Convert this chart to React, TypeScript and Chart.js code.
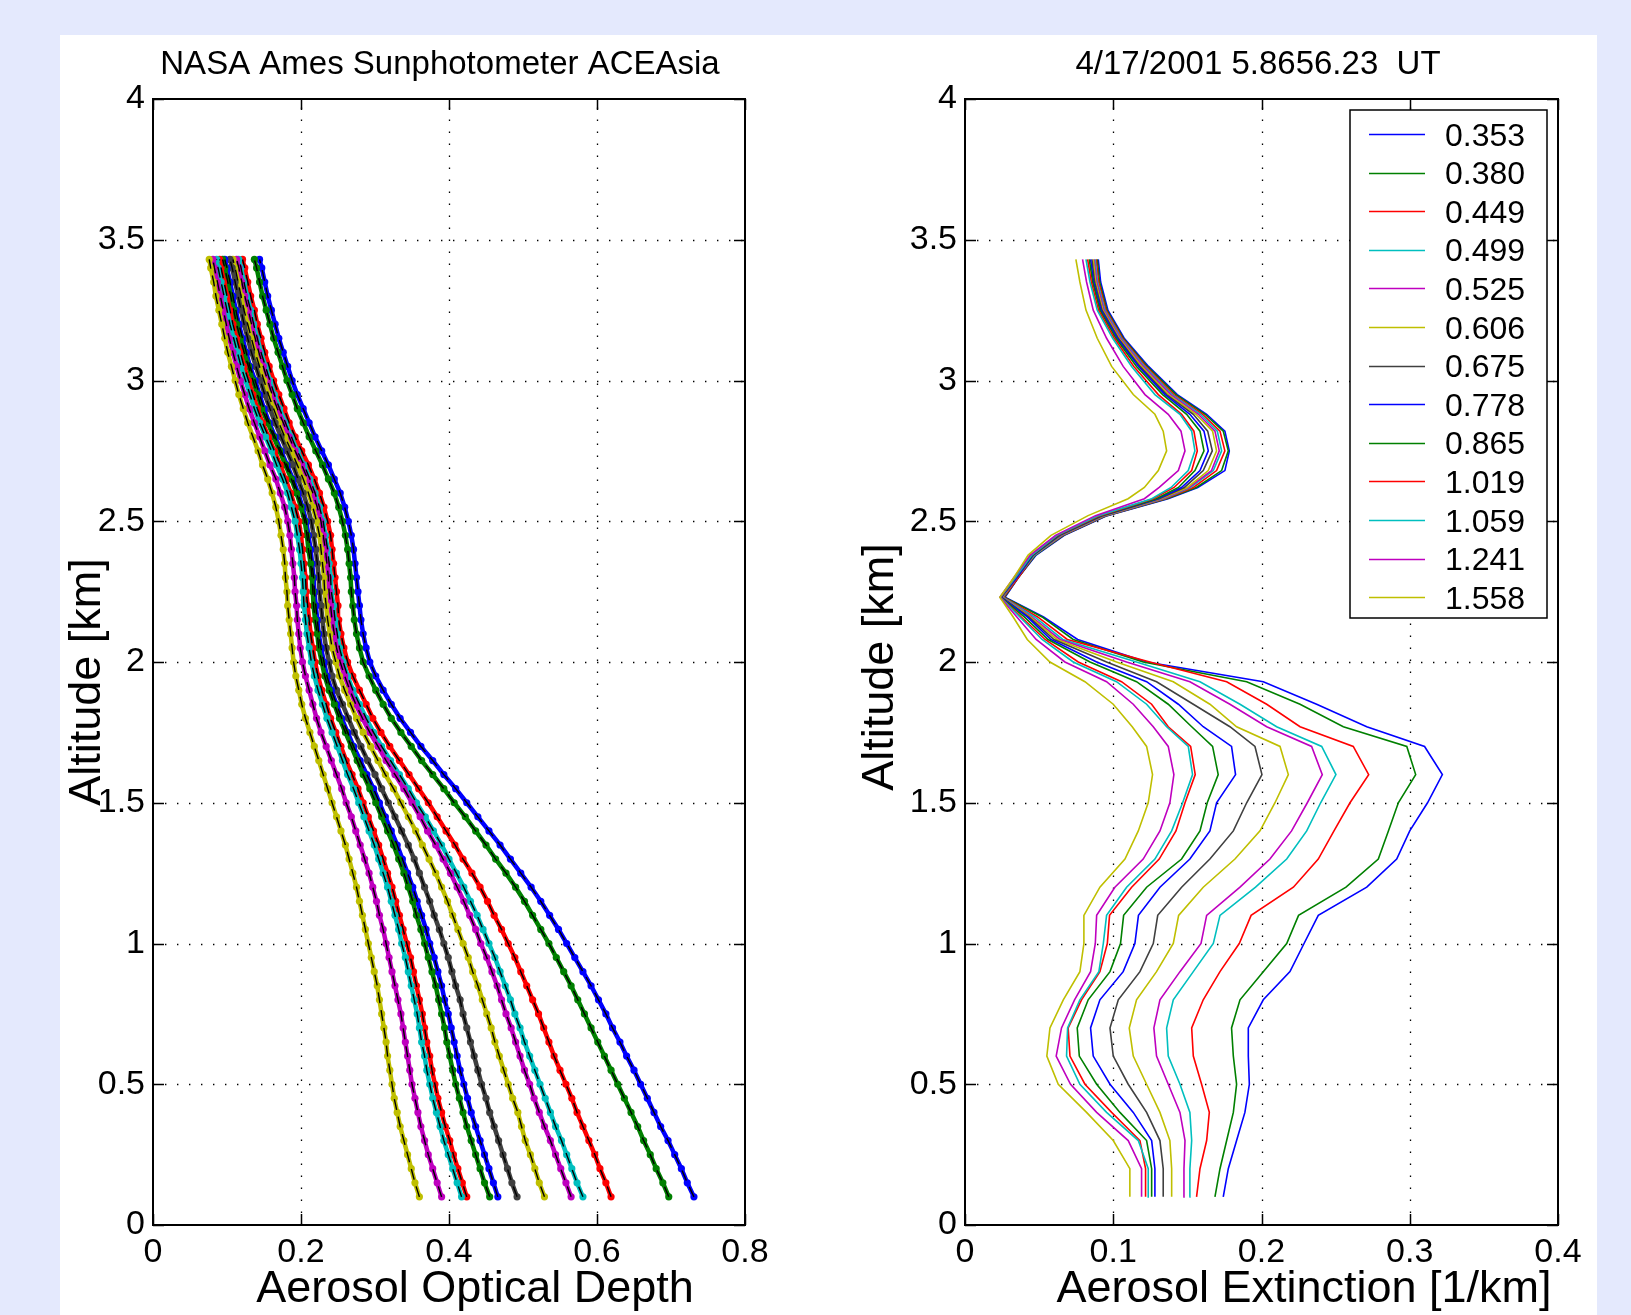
import React, { useEffect, useRef } from "react";
import { Chart, registerables } from "chart.js";

Chart.register(...registerables);

const FONT = '"Liberation Sans", Arial, Helvetica, sans-serif';

// ---------- legend / series ----------
const WAVELENGTHS = ["0.353", "0.380", "0.449", "0.499", "0.525", "0.606", "0.675", "0.778", "0.865", "1.019", "1.059", "1.241", "1.558"];
const COLORS = ["#0000ff", "#008000", "#ff0000", "#00bfbf", "#bf00bf", "#bfbf00", "#404040", "#0000ff", "#008000", "#ff0000", "#00bfbf", "#bf00bf", "#bfbf00"];

// ---------- left panel: aerosol optical depth vs altitude ----------
const ALT_AOD = [0.10, 0.15, 0.20, 0.25, 0.30, 0.35, 0.40, 0.45, 0.50, 0.55, 0.60, 0.65, 0.70, 0.75, 0.80, 0.85, 0.90, 0.95, 1.00, 1.05, 1.10, 1.15, 1.20, 1.25, 1.30, 1.35, 1.40, 1.45, 1.50, 1.55, 1.60, 1.65, 1.70, 1.75, 1.80, 1.85, 1.90, 1.95, 2.00, 2.05, 2.10, 2.15, 2.20, 2.25, 2.30, 2.35, 2.40, 2.45, 2.50, 2.55, 2.60, 2.65, 2.70, 2.75, 2.80, 2.85, 2.90, 2.95, 3.00, 3.05, 3.10, 3.15, 3.20, 3.25, 3.30, 3.35, 3.40, 3.43];

const AOD_353 = [0.731, 0.722, 0.714, 0.705, 0.696, 0.686, 0.677, 0.668, 0.659, 0.650, 0.640, 0.631, 0.621, 0.612, 0.602, 0.592, 0.581, 0.570, 0.559, 0.548, 0.536, 0.524, 0.511, 0.497, 0.483, 0.469, 0.454, 0.439, 0.424, 0.409, 0.393, 0.378, 0.362, 0.348, 0.334, 0.322, 0.311, 0.301, 0.293, 0.288, 0.284, 0.281, 0.279, 0.277, 0.275, 0.273, 0.271, 0.268, 0.264, 0.259, 0.253, 0.245, 0.237, 0.228, 0.219, 0.211, 0.203, 0.195, 0.188, 0.182, 0.176, 0.170, 0.165, 0.160, 0.155, 0.151, 0.147, 0.144];
const AOD_380 = [0.697, 0.689, 0.680, 0.672, 0.663, 0.655, 0.646, 0.637, 0.628, 0.619, 0.610, 0.601, 0.592, 0.583, 0.574, 0.565, 0.555, 0.545, 0.535, 0.524, 0.513, 0.502, 0.490, 0.477, 0.463, 0.450, 0.436, 0.422, 0.407, 0.393, 0.378, 0.363, 0.349, 0.335, 0.322, 0.311, 0.301, 0.292, 0.284, 0.279, 0.275, 0.272, 0.270, 0.268, 0.267, 0.265, 0.263, 0.260, 0.256, 0.251, 0.245, 0.237, 0.229, 0.220, 0.211, 0.203, 0.195, 0.188, 0.181, 0.175, 0.169, 0.163, 0.158, 0.153, 0.148, 0.144, 0.140, 0.137];
const AOD_449 = [0.619, 0.612, 0.604, 0.597, 0.589, 0.581, 0.573, 0.566, 0.558, 0.550, 0.542, 0.535, 0.528, 0.521, 0.513, 0.505, 0.497, 0.489, 0.480, 0.471, 0.461, 0.452, 0.442, 0.431, 0.419, 0.408, 0.396, 0.384, 0.372, 0.359, 0.346, 0.333, 0.320, 0.308, 0.297, 0.288, 0.279, 0.270, 0.263, 0.258, 0.254, 0.251, 0.250, 0.248, 0.246, 0.244, 0.242, 0.240, 0.236, 0.231, 0.225, 0.218, 0.210, 0.201, 0.192, 0.184, 0.177, 0.170, 0.163, 0.157, 0.151, 0.146, 0.141, 0.137, 0.132, 0.128, 0.124, 0.121];
const AOD_499 = [0.581, 0.573, 0.566, 0.559, 0.552, 0.544, 0.537, 0.530, 0.523, 0.516, 0.509, 0.502, 0.496, 0.489, 0.483, 0.476, 0.469, 0.462, 0.454, 0.446, 0.438, 0.429, 0.420, 0.410, 0.400, 0.390, 0.379, 0.368, 0.356, 0.345, 0.333, 0.321, 0.309, 0.298, 0.288, 0.279, 0.270, 0.263, 0.257, 0.252, 0.249, 0.246, 0.244, 0.241, 0.240, 0.238, 0.236, 0.233, 0.230, 0.225, 0.219, 0.212, 0.204, 0.195, 0.187, 0.179, 0.171, 0.164, 0.158, 0.152, 0.146, 0.141, 0.136, 0.132, 0.127, 0.123, 0.119, 0.116];
const AOD_525 = [0.565, 0.558, 0.551, 0.544, 0.537, 0.529, 0.522, 0.515, 0.509, 0.502, 0.496, 0.490, 0.484, 0.477, 0.471, 0.465, 0.458, 0.451, 0.443, 0.436, 0.428, 0.420, 0.411, 0.402, 0.392, 0.382, 0.371, 0.361, 0.350, 0.339, 0.327, 0.315, 0.304, 0.293, 0.283, 0.274, 0.266, 0.259, 0.253, 0.248, 0.245, 0.242, 0.240, 0.238, 0.237, 0.235, 0.233, 0.230, 0.227, 0.222, 0.216, 0.209, 0.201, 0.192, 0.184, 0.176, 0.168, 0.161, 0.155, 0.149, 0.143, 0.138, 0.133, 0.129, 0.124, 0.120, 0.116, 0.113];
const AOD_606 = [0.529, 0.522, 0.516, 0.510, 0.503, 0.498, 0.493, 0.486, 0.480, 0.474, 0.468, 0.462, 0.457, 0.451, 0.445, 0.439, 0.432, 0.426, 0.419, 0.412, 0.405, 0.398, 0.390, 0.382, 0.373, 0.364, 0.355, 0.345, 0.335, 0.325, 0.314, 0.304, 0.294, 0.284, 0.275, 0.267, 0.259, 0.252, 0.247, 0.242, 0.239, 0.236, 0.234, 0.232, 0.231, 0.229, 0.227, 0.225, 0.221, 0.216, 0.210, 0.203, 0.195, 0.187, 0.178, 0.170, 0.163, 0.156, 0.150, 0.144, 0.138, 0.133, 0.128, 0.123, 0.119, 0.115, 0.111, 0.108];
const AOD_675 = [0.492, 0.485, 0.479, 0.473, 0.467, 0.461, 0.455, 0.450, 0.444, 0.439, 0.434, 0.429, 0.424, 0.419, 0.415, 0.409, 0.404, 0.399, 0.393, 0.387, 0.380, 0.374, 0.367, 0.360, 0.353, 0.345, 0.336, 0.327, 0.318, 0.309, 0.300, 0.290, 0.281, 0.272, 0.264, 0.256, 0.248, 0.242, 0.238, 0.234, 0.231, 0.229, 0.227, 0.225, 0.224, 0.222, 0.220, 0.217, 0.214, 0.209, 0.203, 0.196, 0.189, 0.181, 0.173, 0.165, 0.158, 0.151, 0.145, 0.139, 0.133, 0.128, 0.123, 0.119, 0.115, 0.111, 0.107, 0.104];
const AOD_778 = [0.466, 0.460, 0.454, 0.448, 0.442, 0.436, 0.430, 0.425, 0.420, 0.415, 0.411, 0.407, 0.403, 0.399, 0.394, 0.390, 0.385, 0.380, 0.374, 0.369, 0.363, 0.357, 0.351, 0.344, 0.337, 0.330, 0.322, 0.314, 0.306, 0.298, 0.289, 0.280, 0.271, 0.263, 0.255, 0.248, 0.241, 0.235, 0.231, 0.227, 0.224, 0.222, 0.220, 0.218, 0.217, 0.215, 0.213, 0.210, 0.207, 0.202, 0.196, 0.189, 0.181, 0.173, 0.165, 0.157, 0.150, 0.144, 0.138, 0.131, 0.126, 0.121, 0.116, 0.112, 0.108, 0.104, 0.100, 0.097];
const AOD_865 = [0.455, 0.448, 0.442, 0.436, 0.430, 0.424, 0.419, 0.414, 0.409, 0.405, 0.401, 0.397, 0.394, 0.390, 0.386, 0.382, 0.377, 0.372, 0.367, 0.362, 0.356, 0.351, 0.345, 0.339, 0.332, 0.325, 0.317, 0.309, 0.301, 0.293, 0.284, 0.276, 0.268, 0.260, 0.252, 0.245, 0.238, 0.232, 0.228, 0.224, 0.222, 0.219, 0.217, 0.216, 0.215, 0.213, 0.210, 0.208, 0.205, 0.200, 0.194, 0.187, 0.179, 0.171, 0.163, 0.155, 0.147, 0.141, 0.135, 0.129, 0.123, 0.118, 0.113, 0.109, 0.105, 0.101, 0.097, 0.094];
const AOD_1019 = [0.424, 0.418, 0.412, 0.406, 0.401, 0.395, 0.390, 0.385, 0.381, 0.377, 0.374, 0.370, 0.367, 0.364, 0.360, 0.356, 0.352, 0.348, 0.343, 0.338, 0.333, 0.328, 0.323, 0.317, 0.311, 0.305, 0.298, 0.291, 0.284, 0.277, 0.269, 0.261, 0.254, 0.247, 0.240, 0.234, 0.228, 0.223, 0.219, 0.216, 0.213, 0.211, 0.209, 0.207, 0.206, 0.204, 0.202, 0.200, 0.197, 0.192, 0.186, 0.179, 0.172, 0.164, 0.156, 0.148, 0.141, 0.135, 0.129, 0.123, 0.118, 0.113, 0.108, 0.104, 0.100, 0.096, 0.092, 0.090];
const AOD_1059 = [0.417, 0.411, 0.405, 0.399, 0.393, 0.388, 0.383, 0.378, 0.374, 0.370, 0.367, 0.363, 0.360, 0.357, 0.353, 0.349, 0.345, 0.341, 0.336, 0.332, 0.327, 0.322, 0.317, 0.311, 0.305, 0.299, 0.292, 0.285, 0.278, 0.271, 0.263, 0.256, 0.249, 0.242, 0.235, 0.229, 0.223, 0.218, 0.214, 0.211, 0.208, 0.206, 0.204, 0.203, 0.202, 0.200, 0.198, 0.195, 0.192, 0.187, 0.182, 0.175, 0.167, 0.160, 0.152, 0.144, 0.137, 0.131, 0.125, 0.119, 0.114, 0.109, 0.104, 0.100, 0.096, 0.092, 0.088, 0.086];
const AOD_1241 = [0.390, 0.384, 0.378, 0.372, 0.367, 0.362, 0.358, 0.354, 0.350, 0.347, 0.344, 0.341, 0.338, 0.335, 0.331, 0.327, 0.323, 0.319, 0.315, 0.311, 0.306, 0.302, 0.297, 0.292, 0.286, 0.280, 0.274, 0.268, 0.261, 0.255, 0.248, 0.241, 0.234, 0.227, 0.221, 0.216, 0.211, 0.206, 0.202, 0.199, 0.197, 0.195, 0.194, 0.192, 0.191, 0.189, 0.187, 0.185, 0.182, 0.178, 0.172, 0.166, 0.158, 0.151, 0.144, 0.137, 0.130, 0.124, 0.118, 0.113, 0.108, 0.103, 0.099, 0.095, 0.091, 0.087, 0.083, 0.081];
const AOD_1558 = [0.360, 0.354, 0.349, 0.344, 0.339, 0.334, 0.330, 0.326, 0.323, 0.320, 0.317, 0.315, 0.312, 0.309, 0.306, 0.303, 0.299, 0.295, 0.291, 0.287, 0.283, 0.279, 0.275, 0.270, 0.265, 0.260, 0.254, 0.248, 0.242, 0.236, 0.230, 0.224, 0.218, 0.212, 0.206, 0.201, 0.197, 0.193, 0.190, 0.188, 0.186, 0.184, 0.182, 0.181, 0.179, 0.178, 0.176, 0.173, 0.170, 0.166, 0.161, 0.155, 0.148, 0.142, 0.135, 0.128, 0.122, 0.116, 0.111, 0.106, 0.101, 0.097, 0.093, 0.089, 0.085, 0.082, 0.078, 0.076];

// ---------- right panel: aerosol extinction vs altitude ----------
const ALT_EXT = [0.10, 0.20, 0.30, 0.40, 0.50, 0.60, 0.70, 0.80, 0.90, 1.00, 1.10, 1.20, 1.30, 1.40, 1.50, 1.60, 1.70, 1.77, 1.85, 1.93, 2.00, 2.08, 2.16, 2.23, 2.30, 2.38, 2.45, 2.52, 2.58, 2.62, 2.68, 2.75, 2.82, 2.88, 2.95, 3.05, 3.15, 3.25, 3.35, 3.43];

const EXT_353 = [0.1742, 0.1776, 0.1832, 0.1888, 0.1918, 0.1911, 0.1911, 0.2012, 0.2192, 0.2287, 0.2383, 0.2710, 0.2912, 0.3000, 0.3120, 0.3220, 0.3100, 0.2710, 0.2372, 0.2012, 0.1225, 0.0760, 0.0530, 0.0270, 0.0360, 0.0480, 0.0670, 0.0960, 0.1370, 0.1570, 0.1753, 0.1783, 0.1753, 0.1630, 0.1432, 0.1238, 0.1074, 0.0964, 0.0915, 0.0899];
const EXT_380 = [0.1686, 0.1720, 0.1765, 0.1810, 0.1832, 0.1810, 0.1798, 0.1855, 0.2012, 0.2170, 0.2250, 0.2570, 0.2788, 0.2856, 0.2923, 0.3040, 0.2980, 0.2552, 0.2260, 0.1900, 0.1202, 0.0730, 0.0520, 0.0265, 0.0360, 0.0475, 0.0665, 0.0955, 0.1360, 0.1560, 0.1731, 0.1776, 0.1742, 0.1619, 0.1423, 0.1229, 0.1067, 0.0957, 0.0908, 0.0892];
const EXT_449 = [0.1562, 0.1585, 0.1630, 0.1648, 0.1596, 0.1540, 0.1529, 0.1607, 0.1720, 0.1850, 0.1930, 0.2215, 0.2383, 0.2489, 0.2597, 0.2723, 0.2619, 0.2260, 0.2035, 0.1765, 0.1247, 0.0690, 0.0490, 0.0260, 0.0360, 0.0470, 0.0660, 0.0950, 0.1350, 0.1540, 0.1697, 0.1753, 0.1720, 0.1603, 0.1409, 0.1220, 0.1061, 0.0951, 0.0901, 0.0885];
const EXT_499 = [0.1513, 0.1517, 0.1529, 0.1517, 0.1450, 0.1371, 0.1360, 0.1405, 0.1540, 0.1675, 0.1720, 0.1960, 0.2170, 0.2305, 0.2399, 0.2502, 0.2406, 0.2102, 0.1855, 0.1585, 0.1157, 0.0660, 0.0470, 0.0255, 0.0350, 0.0470, 0.0655, 0.0945, 0.1340, 0.1520, 0.1675, 0.1731, 0.1702, 0.1589, 0.1398, 0.1211, 0.1054, 0.0944, 0.0894, 0.0878];
const EXT_525 = [0.1472, 0.1477, 0.1484, 0.1450, 0.1371, 0.1292, 0.1274, 0.1315, 0.1450, 0.1592, 0.1630, 0.1855, 0.2057, 0.2203, 0.2309, 0.2410, 0.2338, 0.2035, 0.1787, 0.1517, 0.1090, 0.0640, 0.0450, 0.0250, 0.0350, 0.0465, 0.0650, 0.0940, 0.1330, 0.1510, 0.1663, 0.1715, 0.1686, 0.1574, 0.1387, 0.1202, 0.1047, 0.0937, 0.0888, 0.0871];
const EXT_606 = [0.1394, 0.1394, 0.1382, 0.1315, 0.1225, 0.1135, 0.1108, 0.1157, 0.1292, 0.1405, 0.1441, 0.1607, 0.1821, 0.1990, 0.2091, 0.2181, 0.2125, 0.1832, 0.1652, 0.1405, 0.1022, 0.0620, 0.0440, 0.0248, 0.0350, 0.0465, 0.0645, 0.0935, 0.1320, 0.1500, 0.1641, 0.1697, 0.1670, 0.1558, 0.1373, 0.1191, 0.1040, 0.0930, 0.0881, 0.0865];
const EXT_675 = [0.1337, 0.1337, 0.1315, 0.1225, 0.1101, 0.1000, 0.0978, 0.1034, 0.1180, 0.1270, 0.1300, 0.1461, 0.1652, 0.1810, 0.1900, 0.2003, 0.1956, 0.1787, 0.1540, 0.1292, 0.0955, 0.0600, 0.0430, 0.0245, 0.0350, 0.0460, 0.0640, 0.0930, 0.1310, 0.1480, 0.1607, 0.1668, 0.1637, 0.1540, 0.1360, 0.1180, 0.1034, 0.0924, 0.0874, 0.0856];
const EXT_778 = [0.1281, 0.1281, 0.1259, 0.1135, 0.0978, 0.0865, 0.0847, 0.0910, 0.1067, 0.1146, 0.1170, 0.1315, 0.1517, 0.1652, 0.1697, 0.1825, 0.1798, 0.1607, 0.1439, 0.1225, 0.0888, 0.0580, 0.0420, 0.0243, 0.0350, 0.0460, 0.0635, 0.0920, 0.1300, 0.1460, 0.1585, 0.1641, 0.1612, 0.1517, 0.1349, 0.1171, 0.1027, 0.0917, 0.0867, 0.0847];
const EXT_865 = [0.1259, 0.1259, 0.1225, 0.1045, 0.0888, 0.0771, 0.0757, 0.0831, 0.0978, 0.1049, 0.1070, 0.1225, 0.1461, 0.1585, 0.1634, 0.1708, 0.1670, 0.1529, 0.1371, 0.1157, 0.0843, 0.0560, 0.0400, 0.0241, 0.0340, 0.0455, 0.0630, 0.0915, 0.1290, 0.1440, 0.1551, 0.1612, 0.1585, 0.1495, 0.1333, 0.1157, 0.1018, 0.0910, 0.0861, 0.0838];
const EXT_1019 = [0.1218, 0.1218, 0.1180, 0.0989, 0.0809, 0.0708, 0.0696, 0.0786, 0.0910, 0.0960, 0.0975, 0.1124, 0.1310, 0.1423, 0.1484, 0.1553, 0.1522, 0.1371, 0.1259, 0.1056, 0.0764, 0.0540, 0.0380, 0.0240, 0.0340, 0.0450, 0.0625, 0.0910, 0.1270, 0.1410, 0.1529, 0.1567, 0.1544, 0.1461, 0.1304, 0.1139, 0.1007, 0.0901, 0.0852, 0.0827];
const EXT_1059 = [0.1241, 0.1236, 0.1169, 0.0955, 0.0775, 0.0685, 0.0692, 0.0775, 0.0903, 0.0933, 0.0955, 0.1090, 0.1281, 0.1394, 0.1468, 0.1535, 0.1506, 0.1360, 0.1225, 0.1022, 0.0730, 0.0520, 0.0370, 0.0238, 0.0340, 0.0450, 0.0620, 0.0900, 0.1260, 0.1390, 0.1506, 0.1551, 0.1529, 0.1450, 0.1281, 0.1124, 0.0996, 0.0892, 0.0843, 0.0816];
const EXT_1241 = [0.1191, 0.1191, 0.1101, 0.0888, 0.0712, 0.0615, 0.0651, 0.0739, 0.0847, 0.0879, 0.0888, 0.1011, 0.1202, 0.1315, 0.1382, 0.1409, 0.1371, 0.1270, 0.1135, 0.0955, 0.0674, 0.0480, 0.0350, 0.0236, 0.0330, 0.0440, 0.0610, 0.0880, 0.1210, 0.1310, 0.1439, 0.1484, 0.1457, 0.1371, 0.1214, 0.1067, 0.0955, 0.0865, 0.0820, 0.0793];
const EXT_1558 = [0.1112, 0.1112, 0.1000, 0.0820, 0.0629, 0.0552, 0.0573, 0.0663, 0.0775, 0.0802, 0.0802, 0.0910, 0.1079, 0.1169, 0.1236, 0.1265, 0.1225, 0.1128, 0.1000, 0.0809, 0.0573, 0.0420, 0.0325, 0.0235, 0.0330, 0.0426, 0.0580, 0.0830, 0.1100, 0.1210, 0.1304, 0.1360, 0.1337, 0.1281, 0.1135, 0.0989, 0.0892, 0.0816, 0.0775, 0.0748];

const AOD_SERIES = [AOD_353, AOD_380, AOD_449, AOD_499, AOD_525, AOD_606, AOD_675, AOD_778, AOD_865, AOD_1019, AOD_1059, AOD_1241, AOD_1558];
const EXT_SERIES = [EXT_353, EXT_380, EXT_449, EXT_499, EXT_525, EXT_606, EXT_675, EXT_778, EXT_865, EXT_1019, EXT_1059, EXT_1241, EXT_1558];

// ---------- axes / text ----------
const LEFT_TITLE = "NASA Ames Sunphotometer ACEAsia";
const RIGHT_TITLE = "4/17/2001 5.8656.23  UT";
const LEFT_XLABEL = "Aerosol Optical Depth";
const RIGHT_XLABEL = "Aerosol Extinction [1/km]";
const YLABEL = "Altitude [km]";

const PAGE_W = 1631;
const PAGE_H = 1315;
const SPLIT = 815;

type Decor = {
  offsetX: number;
  title: string;
  titleX: number;
  xLabel: string;
  xLabelX: number;
  yLabelX: number;
  yLabelY: number;
  legend: boolean;
};

function makeDecor(p: Decor) {
  return {
    id: "matlabDecor",
    beforeDatasetsDraw(chart: any) {
      const { ctx, chartArea: a, scales } = chart;
      const xs = scales.x;
      const ys = scales.y;
      ctx.save();
      ctx.strokeStyle = "#000";
      ctx.lineWidth = 1.3;
      ctx.setLineDash([1.4, 10.6]);
      for (const t of xs.ticks) {
        if (t.value <= xs.min + 1e-9 || t.value >= xs.max - 1e-9) continue;
        const px = Math.round(xs.getPixelForValue(t.value)) + 0.5;
        ctx.beginPath();
        ctx.moveTo(px, a.bottom);
        ctx.lineTo(px, a.top);
        ctx.stroke();
      }
      for (const t of ys.ticks) {
        if (t.value <= ys.min + 1e-9 || t.value >= ys.max - 1e-9) continue;
        const py = Math.round(ys.getPixelForValue(t.value)) + 0.5;
        ctx.beginPath();
        ctx.moveTo(a.left, py);
        ctx.lineTo(a.right, py);
        ctx.stroke();
      }
      ctx.restore();
    },
    afterDatasetsDraw(chart: any) {
      const { ctx, chartArea: a, scales, data } = chart;
      const xs = scales.x;
      const ys = scales.y;
      ctx.save();
      ctx.setLineDash([]);
      ctx.strokeStyle = "#000";
      // inward tick marks on all four sides
      ctx.lineWidth = 1.5;
      const TL = 11;
      for (const t of xs.ticks) {
        const px = Math.round(xs.getPixelForValue(t.value)) + 0.5;
        ctx.beginPath();
        ctx.moveTo(px, a.bottom);
        ctx.lineTo(px, a.bottom - TL);
        ctx.moveTo(px, a.top);
        ctx.lineTo(px, a.top + TL);
        ctx.stroke();
      }
      for (const t of ys.ticks) {
        const py = Math.round(ys.getPixelForValue(t.value)) + 0.5;
        ctx.beginPath();
        ctx.moveTo(a.left, py);
        ctx.lineTo(a.left + TL, py);
        ctx.moveTo(a.right, py);
        ctx.lineTo(a.right - TL, py);
        ctx.stroke();
      }
      // box
      ctx.lineWidth = 2;
      ctx.strokeRect(a.left, a.top, a.right - a.left, a.bottom - a.top);

      if (p.legend) {
        const bx = 1350 - p.offsetX;
        const by = 110;
        const bw = 197;
        const bh = 508;
        ctx.fillStyle = "#fff";
        ctx.fillRect(bx, by, bw, bh);
        ctx.lineWidth = 1.5;
        ctx.strokeStyle = "#000";
        ctx.strokeRect(bx, by, bw, bh);
        ctx.font = `32px ${FONT}`;
        ctx.textAlign = "left";
        ctx.textBaseline = "alphabetic";
        data.datasets.forEach((ds: any, i: number) => {
          const cy = 134 + i * 38.6;
          ctx.strokeStyle = ds.borderColor;
          ctx.lineWidth = 1.3;
          ctx.beginPath();
          ctx.moveTo(bx + 19, Math.round(cy) + 0.5);
          ctx.lineTo(bx + 75, Math.round(cy) + 0.5);
          ctx.stroke();
          ctx.fillStyle = "#000";
          ctx.fillText(ds.label, bx + 95, cy + 11.5);
        });
      }
      ctx.restore();
    },
    afterDraw(chart: any) {
      const { ctx } = chart;
      ctx.save();
      ctx.fillStyle = "#000";
      ctx.textBaseline = "alphabetic";
      ctx.textAlign = "center";
      ctx.font = `33px ${FONT}`;
      ctx.fillText(p.title, p.titleX - p.offsetX, 74);
      ctx.font = `45px ${FONT}`;
      ctx.fillText(p.xLabel, p.xLabelX - p.offsetX, 1302);
      ctx.translate(p.yLabelX - p.offsetX, p.yLabelY);
      ctx.rotate(-Math.PI / 2);
      ctx.fillText(YLABEL, 0, 0);
      ctx.restore();
    },
  };
}

const fmtTick = (v: any) => String(Number(Number(v).toFixed(2)));

function baseOptions(canvasW: number, areaLeft: number, areaRight: number, xMax: number, xStep: number) {
  const tickFont = { family: FONT, size: 34, weight: "normal" as const };
  return {
    responsive: false,
    maintainAspectRatio: false,
    animation: false as const,
    devicePixelRatio: 1,
    events: [] as any[],
    layout: { padding: { left: 0, right: canvasW - areaRight, top: 99, bottom: 0 } },
    plugins: {
      legend: { display: false },
      tooltip: { enabled: false },
      title: { display: false },
    },
    scales: {
      x: {
        type: "linear" as const,
        position: "bottom" as const,
        min: 0,
        max: xMax,
        grid: { display: false, drawTicks: false },
        border: { display: false },
        ticks: { stepSize: xStep, color: "#000", font: tickFont, padding: 7, maxRotation: 0, autoSkip: false, callback: fmtTick },
        afterFit: (s: any) => {
          s.height = PAGE_H - 1225;
        },
      },
      y: {
        type: "linear" as const,
        position: "left" as const,
        min: 0,
        max: 4,
        grid: { display: false, drawTicks: false },
        border: { display: false },
        ticks: { stepSize: 0.5, color: "#000", font: tickFont, padding: 8, autoSkip: false, callback: fmtTick },
        afterFit: (s: any) => {
          s.width = areaLeft;
        },
      },
    },
  };
}

function leftConfig(): any {
  const dots = AOD_SERIES.map((vals, i) => ({
    label: WAVELENGTHS[i],
    data: ALT_AOD.map((alt, k) => ({ x: vals[k], y: alt })),
    showLine: true,
    borderColor: COLORS[i],
    backgroundColor: COLORS[i],
    borderWidth: 4.5,
    pointRadius: 3.6,
    pointBorderWidth: 0,
    pointBackgroundColor: COLORS[i],
    order: 20 - i,
  }));
  const fits = AOD_SERIES.map((vals, i) => ({
    label: WAVELENGTHS[i] + " fit",
    data: ALT_AOD.map((alt, k) => ({ x: vals[k], y: alt })),
    showLine: true,
    borderColor: "#000",
    borderWidth: 1.4,
    borderDash: [11, 7],
    pointRadius: 0,
    order: 0,
  }));
  return {
    type: "scatter",
    data: { datasets: [...dots, ...fits] },
    options: baseOptions(SPLIT, 153, 745, 0.8, 0.2),
    plugins: [
      makeDecor({
        offsetX: 0,
        title: LEFT_TITLE,
        titleX: 440,
        xLabel: LEFT_XLABEL,
        xLabelX: 475,
        yLabelX: 100,
        yLabelY: 682,
        legend: false,
      }),
    ],
  };
}

function rightConfig(): any {
  const lines = EXT_SERIES.map((vals, i) => ({
    label: WAVELENGTHS[i],
    data: ALT_EXT.map((alt, k) => ({ x: vals[k], y: alt })),
    showLine: true,
    borderColor: COLORS[i],
    backgroundColor: COLORS[i],
    borderWidth: 1.6,
    pointRadius: 0,
    order: 20 - i,
  }));
  const w = PAGE_W - SPLIT;
  return {
    type: "scatter",
    data: { datasets: lines },
    options: baseOptions(w, 965 - SPLIT, 1558 - SPLIT, 0.4, 0.1),
    plugins: [
      makeDecor({
        offsetX: SPLIT,
        title: RIGHT_TITLE,
        titleX: 1258,
        xLabel: RIGHT_XLABEL,
        xLabelX: 1304,
        yLabelX: 893,
        yLabelY: 667,
        legend: true,
      }),
    ],
  };
}

export default function App() {
  const leftRef = useRef<HTMLCanvasElement | null>(null);
  const rightRef = useRef<HTMLCanvasElement | null>(null);

  useEffect(() => {
    const c1 = new Chart(leftRef.current as HTMLCanvasElement, leftConfig());
    const c2 = new Chart(rightRef.current as HTMLCanvasElement, rightConfig());
    return () => {
      c1.destroy();
      c2.destroy();
    };
  }, []);

  return (
    <div
      style={{
        position: "absolute",
        left: 0,
        top: 0,
        width: PAGE_W,
        height: PAGE_H,
        background: "#e4e9fd",
        overflow: "hidden",
      }}
    >
      <div style={{ position: "absolute", left: 60, top: 35, width: 1537, height: PAGE_H - 35, background: "#ffffff" }} />
      <canvas
        ref={leftRef}
        width={SPLIT}
        height={PAGE_H}
        style={{ position: "absolute", left: 0, top: 0, width: SPLIT, height: PAGE_H }}
      />
      <canvas
        ref={rightRef}
        width={PAGE_W - SPLIT}
        height={PAGE_H}
        style={{ position: "absolute", left: SPLIT, top: 0, width: PAGE_W - SPLIT, height: PAGE_H }}
      />
    </div>
  );
}
